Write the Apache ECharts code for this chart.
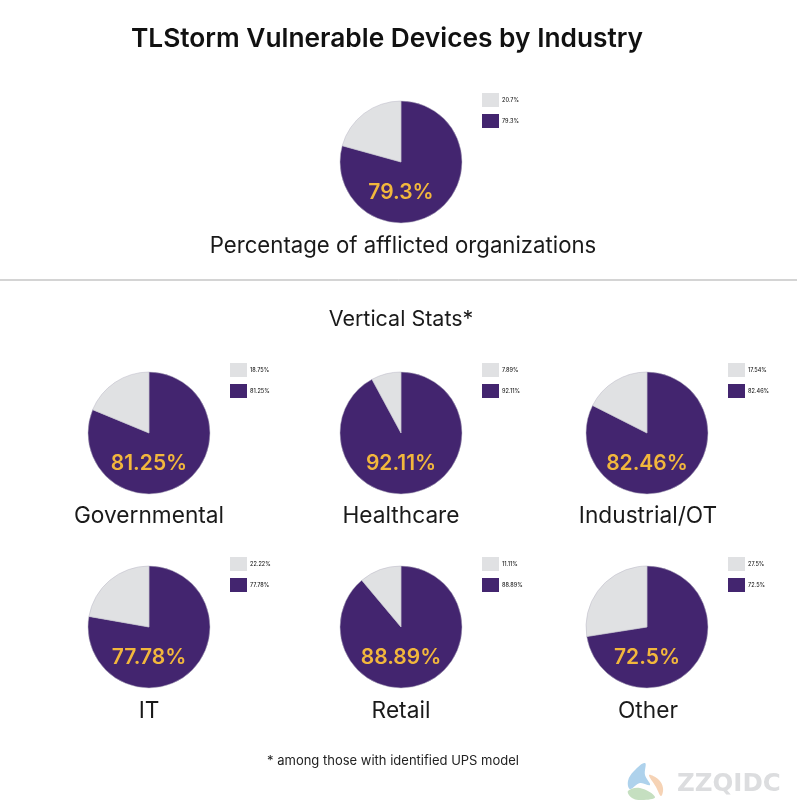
<!DOCTYPE html>
<html><head><meta charset="utf-8">
<style>html,body{margin:0;padding:0;background:#fff}#c{width:797px;height:800px}</style>
<script src="https://cdn.jsdelivr.net/npm/echarts@6/dist/echarts.min.js"></script>
</head><body><div id="c"></div>
<script>
const names = ['Percentage of afflicted organizations','Governmental','Healthcare','Industrial/OT','IT','Retail','Other'];
const afflicted = [79.3,81.25,92.11,82.46,77.78,88.89,72.5];
const others = [20.7,18.75,7.89,17.54,22.22,11.11,27.5];
const centers = [[401,162],[149,433],[401,433],[647,433],[149,627],[401,627],[647,627]];
const nameTop = [235,505,505,505,700,700,700];
const nameX = [403,149,401,648,149,401,648];
const legendX = [482,230,482,728,230,482,728];
const legendY = [93,363,363,363,557,557,557];
const PURPLE='#43256f', GREY='#e0e1e3', GOLD='#f2b73c', FONT='Inter, "Noto Sans", sans-serif';
const pct = v => v + '%';

const titles = [
  {text:'TLStorm Vulnerable Devices by Industry',left:387,top:26,padding:0,textAlign:'center',textStyle:{fontFamily:FONT,fontSize:26.3,fontWeight:600,color:'#111'}},
  {text:'Vertical Stats*',left:401,top:309,padding:0,textAlign:'center',textStyle:{fontFamily:FONT,fontSize:21.5,fontWeight:400,color:'#1a1a1a'}},
  {text:'* among those with identified UPS model',left:393,top:755,padding:0,textAlign:'center',textStyle:{fontFamily:FONT,fontSize:13,fontWeight:400,color:'#222'}},
  {text:'ZZQIDC',left:677,top:772,padding:0,textStyle:{fontFamily:'DejaVu Sans, sans-serif',fontSize:24.5,fontWeight:'bold',color:'#dcdddf'}}
];
names.forEach((n,i)=>{
  titles.push({text:n,left:nameX[i],top:nameTop[i],padding:0,textAlign:'center',textStyle:{fontFamily:FONT,fontSize:i===0?22.2:22.7,fontWeight:400,color:'#1a1a1a'}});
  titles.push({text:pct(afflicted[i]),left:centers[i][0],top:centers[i][1]+20,padding:0,textAlign:'center',textStyle:{fontFamily:FONT,fontSize:21,fontWeight:600,color:GOLD}});
});

const option = {
  backgroundColor:'#fff',
  animation:false,
  title:titles,
  legend:names.map((n,i)=>({
    data:[pct(others[i]),pct(afflicted[i])],
    orient:'vertical',left:legendX[i],top:legendY[i],icon:'rect',
    itemWidth:17,itemHeight:14,itemGap:7,padding:0,selectedMode:false,
    itemStyle:{borderWidth:0},
    textStyle:{fontFamily:FONT,fontSize:5.5,fontWeight:500,color:'#222',padding:[0,0,0,-2]}
  })),
  series:names.map((n,i)=>({
    type:'pie',name:n,center:centers[i],radius:[0,61],startAngle:90,clockwise:true,
    silent:true,label:{show:false},labelLine:{show:false},
    itemStyle:{borderWidth:0.5,borderColor:'#b9b6c4'},
    data:[
      {name:pct(afflicted[i]),value:afflicted[i],itemStyle:{color:PURPLE}},
      {name:pct(others[i]),value:others[i],itemStyle:{color:GREY}}
    ]
  })),
  graphic:[
    {type:'line',silent:true,shape:{x1:0,y1:280,x2:797,y2:280},style:{stroke:'#a9a9a9',lineWidth:1}},
    {type:'polygon',silent:true,shape:{smooth:0.4,points:[[645,763],[634,771],[628,781],[630,789],[640,783],[650,785],[645,775]]},style:{fill:'#aed2ec'}},
    {type:'polygon',silent:true,shape:{smooth:0.4,points:[[649,775],[658,779],[663,788],[661,796],[656,787]]},style:{fill:'#f6d3b5'}},
    {type:'polygon',silent:true,shape:{smooth:0.4,points:[[628,791],[640,788],[655,797],[642,800],[632,798]]},style:{fill:'#c5dfc0'}}
  ]
};
echarts.init(document.getElementById('c'),null,{renderer:'canvas'}).setOption(option);
</script></body></html>
